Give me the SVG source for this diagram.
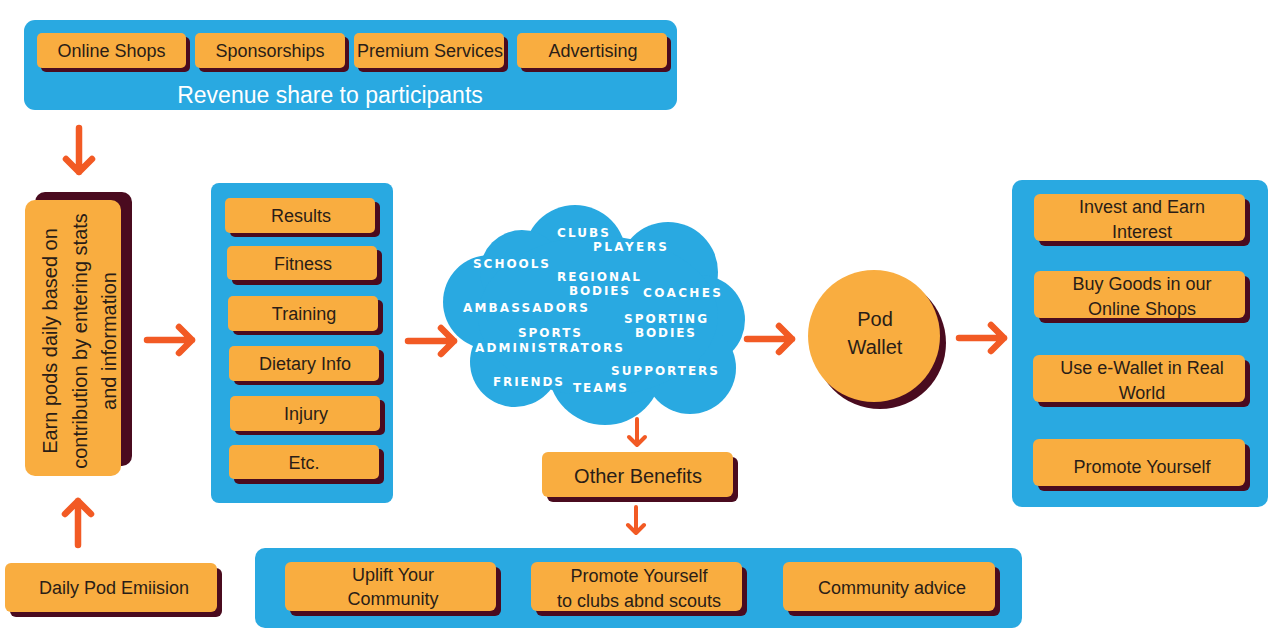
<svg xmlns="http://www.w3.org/2000/svg" width="1280" height="640" viewBox="0 0 1280 640">
<defs>
<style>
.panel{fill:#29a9e1}
.box{fill:#f9ad40}
.sh{fill:#4a0b1f}
.t{font-family:"Liberation Sans",Arial,sans-serif;font-size:18px;fill:#2a1d17;text-anchor:middle}
.t20{font-size:20px}
.rev{font-family:"Liberation Sans",Arial,sans-serif;font-size:23px;fill:#ffffff;text-anchor:middle}
.cw{font-family:"DejaVu Sans","Open Sans",sans-serif;font-weight:700;font-size:12px;fill:#ffffff}
.ar{fill:none;stroke:#f25a24;stroke-width:6.5;stroke-linecap:round;stroke-linejoin:round}
.ars{fill:none;stroke:#f25a24;stroke-width:4;stroke-linecap:round;stroke-linejoin:round}
</style>
</defs>
<rect width="1280" height="640" fill="#ffffff"/>

<g id="revenue">
<rect class="panel" x="24" y="20" width="653" height="90" rx="11"/>
<g id="online-shops"><rect class="sh" x="41" y="37" width="149" height="35" rx="5"/><rect class="box" x="37" y="33" width="149" height="35" rx="5"/><text class="t" x="111.5" y="57">Online Shops</text></g>
<g id="sponsorships"><rect class="sh" x="199" y="37" width="150" height="35" rx="5"/><rect class="box" x="195" y="33" width="150" height="35" rx="5"/><text class="t" x="270" y="57">Sponsorships</text></g>
<g id="premium"><rect class="sh" x="358" y="37" width="150" height="35" rx="5"/><rect class="box" x="354" y="33" width="150" height="35" rx="5"/><text class="t" x="430" y="57">Premium Services</text></g>
<g id="advertising"><rect class="sh" x="521" y="37" width="150" height="35" rx="5"/><rect class="box" x="517" y="33" width="150" height="35" rx="5"/><text class="t" x="593" y="57">Advertising</text></g>
<text class="rev" x="330" y="103">Revenue share to participants</text>
</g>

<g id="earn">
<rect class="sh" x="35" y="192" width="97" height="274" rx="10"/>
<rect class="box" x="25" y="200" width="96" height="276" rx="10"/>
<text class="t t20" transform="translate(0,341) rotate(-90)"><tspan x="0" y="57">Earn pods daily based on</tspan><tspan x="0" y="87">contribution by entering stats</tspan><tspan x="0" y="116">and information</tspan></text>
</g>

<g id="daily-pod">
<rect class="sh" x="10" y="568" width="212" height="49" rx="6"/>
<rect class="box" x="5" y="563" width="212" height="49" rx="6"/>
<text class="t" x="114" y="594">Daily Pod Emiision</text>
</g>

<g id="stats">
<rect class="panel" x="211" y="183" width="182" height="320" rx="8"/>
<g id="results"><rect class="sh" x="230" y="202" width="150" height="35" rx="5"/><rect class="box" x="225" y="198" width="150" height="35" rx="5"/><text class="t" x="301" y="222">Results</text></g>
<g id="fitness"><rect class="sh" x="232" y="250" width="150" height="35" rx="5"/><rect class="box" x="227" y="246" width="150" height="34" rx="5"/><text class="t" x="303" y="270">Fitness</text></g>
<g id="training"><rect class="sh" x="233" y="300" width="150" height="35" rx="5"/><rect class="box" x="228" y="296" width="150" height="35" rx="5"/><text class="t" x="304" y="320">Training</text></g>
<g id="dietary"><rect class="sh" x="234" y="350" width="150" height="35" rx="5"/><rect class="box" x="229" y="346" width="150" height="35" rx="5"/><text class="t" x="305" y="370">Dietary Info</text></g>
<g id="injury"><rect class="sh" x="235" y="400" width="150" height="35" rx="5"/><rect class="box" x="230" y="396" width="150" height="35" rx="5"/><text class="t" x="306" y="420">Injury</text></g>
<g id="etc"><rect class="sh" x="234" y="449" width="150" height="35" rx="5"/><rect class="box" x="229" y="445" width="150" height="34" rx="5"/><text class="t" x="304" y="469">Etc.</text></g>
</g>

<g id="cloud">
<g class="panel">
<circle cx="575" cy="256" r="51"/>
<circle cx="668" cy="272" r="50"/>
<circle cx="700" cy="320" r="45"/>
<circle cx="690" cy="368" r="46"/>
<circle cx="605" cy="368" r="57"/>
<circle cx="515" cy="362" r="45"/>
<circle cx="490" cy="302" r="47"/>
<circle cx="522" cy="272" r="42"/>
<ellipse cx="598" cy="316" rx="120" ry="80"/>
</g>
<text class="cw" x="557" y="237" textLength="52" lengthAdjust="spacing">CLUBS</text>
<text class="cw" x="593" y="251" textLength="74" lengthAdjust="spacing">PLAYERS</text>
<text class="cw" x="473" y="268" textLength="76" lengthAdjust="spacing">SCHOOLS</text>
<text class="cw" x="557" y="281" textLength="83" lengthAdjust="spacing">REGIONAL</text>
<text class="cw" x="569" y="295" textLength="60" lengthAdjust="spacing">BODIES</text>
<text class="cw" x="643" y="297" textLength="78" lengthAdjust="spacing">COACHES</text>
<text class="cw" x="463" y="312" textLength="125" lengthAdjust="spacing">AMBASSADORS</text>
<text class="cw" x="624" y="323" textLength="83" lengthAdjust="spacing">SPORTING</text>
<text class="cw" x="518" y="337" textLength="63" lengthAdjust="spacing">SPORTS</text>
<text class="cw" x="635" y="337" textLength="60" lengthAdjust="spacing">BODIES</text>
<text class="cw" x="475" y="352" textLength="148" lengthAdjust="spacing">ADMINISTRATORS</text>
<text class="cw" x="611" y="375" textLength="107" lengthAdjust="spacing">SUPPORTERS</text>
<text class="cw" x="493" y="386" textLength="70" lengthAdjust="spacing">FRIENDS</text>
<text class="cw" x="573" y="392" textLength="54" lengthAdjust="spacing">TEAMS</text>
</g>

<g id="other-benefits">
<rect class="sh" x="547" y="457" width="191" height="45" rx="6"/>
<rect class="box" x="542" y="452" width="191" height="45" rx="6"/>
<text class="t t20" x="638" y="483">Other Benefits</text>
</g>

<g id="benefits">
<rect class="panel" x="255" y="548" width="767" height="80" rx="10"/>
<g id="uplift"><rect class="sh" x="290" y="567" width="211" height="49" rx="6"/><rect class="box" x="285" y="562" width="211" height="49" rx="6"/><text class="t" x="393"><tspan x="393" y="581">Uplift Your</tspan><tspan x="393" y="605">Community</tspan></text></g>
<g id="promote-clubs"><rect class="sh" x="536" y="567" width="211" height="49" rx="6"/><rect class="box" x="531" y="562" width="211" height="49" rx="6"/><text class="t"><tspan x="639" y="582">Promote Yourself</tspan><tspan x="639" y="607">to clubs abnd scouts</tspan></text></g>
<g id="community-advice"><rect class="sh" x="788" y="567" width="212" height="49" rx="6"/><rect class="box" x="783" y="562" width="212" height="49" rx="6"/><text class="t" x="892" y="594">Community advice</text></g>
</g>

<g id="pod-wallet">
<circle class="sh" cx="880" cy="343" r="66"/>
<circle class="box" cx="874" cy="336" r="66"/>
<text class="t t20"><tspan x="875" y="326">Pod</tspan><tspan x="875" y="354">Wallet</tspan></text>
</g>

<g id="uses">
<rect class="panel" x="1012" y="180" width="256" height="327" rx="10"/>
<g id="invest"><rect class="sh" x="1039" y="199" width="211" height="47" rx="6"/><rect class="box" x="1034" y="194" width="211" height="47" rx="6"/><text class="t"><tspan x="1142" y="213">Invest and Earn</tspan><tspan x="1142" y="238">Interest</tspan></text></g>
<g id="buy-goods"><rect class="sh" x="1039" y="276" width="211" height="47" rx="6"/><rect class="box" x="1034" y="271" width="211" height="47" rx="6"/><text class="t"><tspan x="1142" y="290">Buy Goods in our</tspan><tspan x="1142" y="315">Online Shops</tspan></text></g>
<g id="ewallet"><rect class="sh" x="1038" y="360" width="212" height="47" rx="6"/><rect class="box" x="1033" y="355" width="212" height="47" rx="6"/><text class="t"><tspan x="1142" y="374">Use e-Wallet in Real</tspan><tspan x="1142" y="399">World</tspan></text></g>
<g id="promote"><rect class="sh" x="1038" y="444" width="212" height="47" rx="6"/><rect class="box" x="1033" y="439" width="212" height="47" rx="6"/><text class="t" x="1142" y="473">Promote Yourself</text></g>
</g>

<g id="connectors">
<path class="ar" d="M79 128 L79 172 M66 159 L79 172 L92 159"/>
<path class="ar" d="M78 545 L78 501 M65 514 L78 501 L91 514"/>
<path class="ar" d="M147 340 L192 340 M179 327 L192 340 L179 353"/>
<path class="ar" d="M408 341 L454 341 M441 328 L454 341 L441 354"/>
<path class="ar" d="M747 339 L792 339 M779 326 L792 339 L779 352"/>
<path class="ar" d="M959 338 L1004 338 M991 325 L1004 338 L991 351"/>
<path class="ars" d="M637 419 L637 445 M629 437 L637 445 L645 437"/>
<path class="ars" d="M636 507 L636 533 M628 525 L636 533 L644 525"/>
</g>
</svg>
